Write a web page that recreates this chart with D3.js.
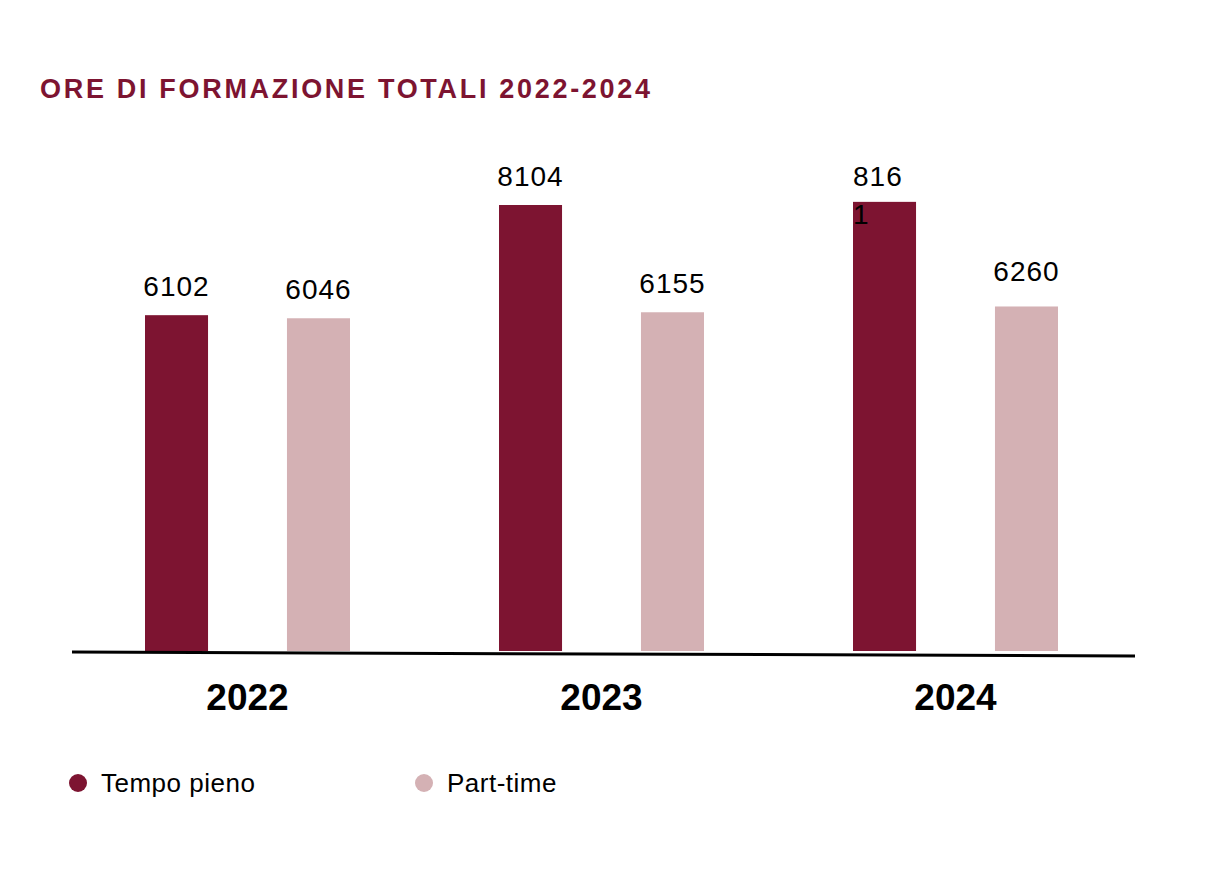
<!DOCTYPE html>
<html><head><meta charset="utf-8">
<script src="https://cdn.jsdelivr.net/npm/d3@7/dist/d3.min.js"></script>
<style>body{margin:0;background:#fff;font-family:"Liberation Sans",Arial,sans-serif;}</style>
</head><body><svg id="c" width="1227" height="881"></svg>
<script>
const years = ["2022","2023","2024"];
const series = ["Tempo pieno","Part-time"];
const tempoPieno = [6102,8104,8161];
const partTime = [6046,6155,6260];
const colors = ["#7d1431","#d4b1b4"];

const svg = d3.select("#c");
svg.append("text").attr("x",40).attr("y",98).attr("fill","#7d1431")
  .attr("font-size",27).attr("font-weight","bold").attr("textLength",610).attr("lengthAdjust","spacing")
  .text("ORE DI FORMAZIONE TOTALI 2022-2024");

const x0 = d3.scaleBand().domain(years).range([70,1132]);
const x1 = d3.scaleBand().domain(series).range([75,280]).paddingInner(0.556).paddingOuter(0);
const y = d3.scaleLinear().domain([0,8104]).range([651,205]);

const data = years.map((yr,i)=>({yr, vals:[tempoPieno[i],partTime[i]]}));
const g = svg.selectAll("g.grp").data(data).join("g").attr("transform",d=>`translate(${x0(d.yr)},0)`);
g.selectAll("rect").data(d=>d.vals.map((v,j)=>({v,s:series[j],j}))).join("rect")
  .attr("x",d=>x1(d.s)).attr("width",x1.bandwidth())
  .attr("y",d=>y(d.v)).attr("height",d=>y(0)-y(d.v)).attr("fill",d=>colors[d.j]);

g.each(function(d,i){
  const gg = d3.select(this);
  d.vals.forEach((v,j)=>{
    const cx = x1(series[j]) + x1.bandwidth()/2;
    if(i===2 && j===0){
      gg.append("text").attr("x",x1(series[j])).attr("y",y(v)-16).attr("font-size",28).attr("letter-spacing",1).text(String(v).slice(0,3));
      gg.append("text").attr("x",x1(series[j])).attr("y",y(v)+22).attr("font-size",28).text(String(v).slice(3));
    } else {
      const off = (i===2 && j===1) ? 25 : 19;
      gg.append("text").attr("x",cx).attr("y",y(v)-off).attr("text-anchor","middle").attr("font-size",28).attr("letter-spacing",1).text(v);
    }
  });
  gg.append("text").attr("x",x1.bandwidth()/2 + (x1(series[0])+x1(series[1]))/2).attr("y",710)
    .attr("text-anchor","middle").attr("font-size",37).attr("font-weight","bold").text(d.yr);
});

svg.append("line").attr("x1",72).attr("y1",652).attr("x2",1135).attr("y2",656)
  .attr("stroke","#000").attr("stroke-width",3);

const legX = [78,424];
series.forEach((s,j)=>{
  svg.append("circle").attr("cx",legX[j]).attr("cy",783).attr("r",9).attr("fill",colors[j]);
  svg.append("text").attr("x",legX[j]+23).attr("y",792).attr("font-size",26).attr("letter-spacing",0.5).text(s);
});
</script></body></html>
